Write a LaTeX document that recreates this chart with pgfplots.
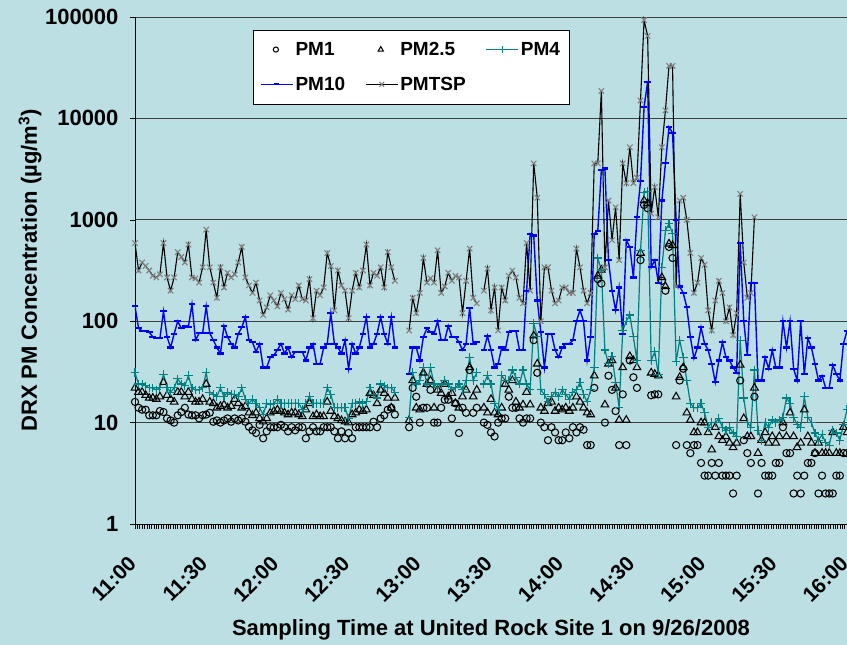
\documentclass[border=0pt]{standalone}
\usepackage{fontspec}
\setmainfont{Liberation Sans}
\usepackage{pgfplots}
\pgfplotsset{compat=1.18}
\usepackage{pgfplotstable}
\definecolor{bgc}{RGB}{187,223,227}
\definecolor{tealc}{RGB}{0,128,128}
\definecolor{grayx}{RGB}{128,128,128}

\pgfplotstableread{
i tsp pm10 pm4 pm25 pm1
0 590 140 31 22 16
1 316 85 24 20 14
2 380 80 24 20 13.4
3 350 80 23 18.6 13.4
4 316 78 22 17.5 11.8
5 280 70 22 17.5 11.8
6 270 68 21 17 11.8
7 290 68 22 18 13
8 590 125 30 25 12.7
9 270 70 22 18.6 11
10 200 55 20 17 10.5
11 270 75 22 16 10
12 480 100 27 20 11.8
13 430 85 24 20 12.7
14 380 90 23 18 14
15 570 88 29 20 12
16 270 147 22 17 11.8
17 265 65 21 16 11.8
18 240 76 21 16 11
19 340 76 22 17 11.8
20 800 140 31 24 12
21 340 76 20 16 12.5
22 240 65 19 15.5 10.2
23 170 55 18 14 10.5
24 340 48 22 14.5 10
25 215 90 18 15 10.5
26 300 70 20 14 11
27 270 60 19 14.5 10.2
28 290 55 19 17 11
29 380 75 18 15.5 10.5
30 540 87 22 14 11
31 270 110 17 14.5 10.2
32 225 65 15.5 12.5 9.1
33 190 62 17 11.8 8.4
34 240 50 15.5 12.5 7.9
35 160 60 14 11 9.5
36 115 35 12 10.2 7
37 137 35 15.5 11 8.2
38 180 44 15 12.5 9
39 160 46 15.5 13 9
40 140 52 17 13.4 9
41 190 60 15.5 13 9.5
42 165 48 15.5 12.5 9
43 130 55 15.5 12 8.2
44 180 44 15.5 12.5 9
45 165 50 15.5 12.5 8.4
46 225 50 15.5 12 9
47 165 50 13.4 11.5 9
48 160 41 15.5 13.4 7
49 260 55 18 15.5 8.2
50 107 60 15.5 11.5 9
51 200 38 15.5 12 8.2
52 180 38 15.5 11.5 8.2
53 215 55 15.5 11.5 9
54 470 60 22 16 9
55 350 120 19 13 9
56 128 60 14 11.5 8.2
57 316 55 14 11 7
58 225 48 14 10.5 8.2
59 200 65 14 10.2 7
60 107 34 11 10 7.9
61 200 60 15.5 12 7
62 300 48 15.5 12.5 9
63 215 55 16 13.4 9
64 316 75 15.5 13 9
65 570 110 16 13.4 9
66 225 55 22 19.5 9
67 300 60 19 18.6 10.2
68 280 75 17.5 15.5 9
69 340 110 24 21 11
70 215 75 23 19.5 11.8
71 480 60 22 17.5 13.4
72 340 110 22 14 14
73 250 55 20 17.5 12
74 nan nan nan nan nan
75 nan nan nan nan nan
76 nan nan nan nan nan
77 81 30 11.3 10.5 9
78 170 55 31 26 22
79 120 55 24 14 18
80 190 41 26 13.4 10
81 420 70 35 31 14
82 240 85 24 24 14
83 265 78 35 26 21
84 240 75 24 14 10
85 500 100 22 21 10
86 190 65 24 19.5 14
87 220 65 26 24 16.8
88 300 90 24 18 16.8
89 250 70 21 19.5 11
90 280 70 22 15.5 15.5
91 270 62 24 14 7.9
92 120 52 21 18 14
93 250 60 26 21 12.5
94 520 135 44 35 33
95 170 60 26 18 12.5
96 150 62 31 21 14
97 nan nan nan nan nan
98 200 52 24 14 10
99 330 72 29 12.5 9.5
100 128 52 24 17 8
101 215 35 15.5 12.5 7.3
102 81 38 13.4 12 10
103 215 55 29 14 11
104 160 52 26 24 11
105 280 78 26 21 18
106 316 80 33 26 14
107 270 80 28 16 14
108 170 52 24 14 11
109 150 52 33 15 10
110 590 200 24 20 11
111 200 730 21 15 11
112 3600 700 95 72 65
113 1650 160 70 38 31
114 100 78 21 14 10
115 340 35 19 13 9
116 340 75 16 15.5 6.7
117 200 75 18 16 9
118 150 52 20 13 8
119 160 44 18 14 6.7
120 215 55 21 13.4 6.7
121 215 60 19 14 8
122 190 60 17 13 7
123 190 65 20 14 9
124 520 100 21 18 8
125 340 128 25 16 9
126 200 100 19 14 8.5
127 150 41 16 12.5 6
128 190 70 21 12 6
129 3600 730 35 29 22
130 3600 780 420 280 260
131 18600 3100 320 320 235
132 340 3200 52 15 10
133 1550 400 38 38 29
134 630 200 45 41 21
135 1330 128 25 22 13
136 400 215 14 10.6 6
137 3600 75 81 35 19
138 2300 630 100 10.6 6
139 5200 540 115 45 41
140 2300 270 70 41 28
141 2600 1060 41 35 22
142 15000 2400 500 470 400
143 93000 13000 1850 1550 1400
144 65000 23000 1900 1450 1300
145 1150 340 41 31 18.6
146 2100 400 50 30 19
147 1060 240 30 29 19
148 5200 1550 340 270 250
149 12000 3600 780 220 200
150 33000 8200 920 580 540
151 33000 7200 730 560 420
152 220 1000 40 18 6
153 1550 220 65 28 26
154 1650 190 44 35 34
155 1000 137 26 12.5 6
156 470 70 15.5 10.6 5
157 190 43 14 8 6
158 240 55 14 8 6
159 420 87 15.5 10 4
160 360 60 12.5 10 3
161 128 52 9 8 3
162 81 38 10 5.4 4
163 160 25 10 9 3
164 250 41 11 7.3 4
165 190 62 9 6.7 3
166 100 44 8.4 7.3 3
167 137 41 9 6.3 3
168 73 35 7.9 5.7 2
169 120 31 7.3 6.3 3
170 1800 590 65 37 26
171 380 100 17.5 11 6.7
172 170 46 10 7.3 5
173 190 240 9 7.3 4
174 1060 240 33 22 18
175 nan 26 8.4 5 2
176 nan 26 6.7 6.7 4
177 nan 44 10 8 3
178 nan 34 9 6.3 3
179 nan 52 10.6 7.3 3
180 nan 35 10 6.3 4
181 nan 35 10.6 7.3 4
182 nan 100 11.3 10 9
183 nan 55 17.5 7.3 5
184 nan 100 15.5 12.5 5
185 nan 34 11.3 7.3 2
186 nan 26 9.5 5.7 3
187 nan 100 9 6.3 2
188 nan 30 18 13.4 3
189 nan 68 11.3 7.3 4
190 nan 55 10 6.3 4
191 nan 38 7.9 5 5
192 nan 26 6.7 6.3 2
193 nan 29 7.6 5 3
194 nan 22 6.3 5 2
195 nan 22 6 5 2
196 nan 37 8.4 8 2
197 nan 30 7.9 5 3
198 nan 26 6.7 5 3
199 nan 60 9.5 9 5
200 nan 80 13.4 8 5
}\datatable

\begin{document}
\begin{tikzpicture}
\fill[bgc] (-135pt,-121pt) rectangle (712pt,524pt);
\begin{axis}[
  at={(0pt,0pt)}, anchor=south west,
  scale only axis, width=712pt, height=507pt,
  ymode=log, ymin=1, ymax=100000,
  xmin=0, xmax=200,
  unbounded coords=jump,
  axis x line*=bottom, axis y line*=left,
  axis line style={black, line width=0.9pt},
  ytick={1,10,100,1000,10000,100000},
  yticklabels={1,10,100,1000,10000,100000},
  yminorticks=false,
  xtick={0,20,...,200},
  xticklabels={11:00,11:30,12:00,12:30,13:00,13:30,14:00,14:30,15:00,15:30,16:00},
  minor x tick num=29,
  tick align=outside,
  major tick length=5pt, minor tick length=5pt,
  every tick/.style={black, line width=0.5pt},
  ymajorgrids,
  grid style={black!75, line width=0.9pt},
  /pgf/number format/assume math mode=true,
  yticklabel style={font=\bfseries\fontsize{22}{22}\selectfont, xshift=-8pt},
  xticklabel style={font=\bfseries\fontsize{21}{21}\selectfont, xshift=-8pt, yshift=-21pt, rotate=45, anchor=north east},
  xlabel={Sampling Time at United Rock Site 1 on 9/26/2008},
  ylabel={DRX PM Concentration (µg/m\textsuperscript{3})},
  xlabel style={font=\bfseries\fontsize{22}{22}\selectfont, at={(axis description cs:0.5,-0.209)}, anchor=center},
  ylabel style={font=\bfseries\fontsize{22}{22}\selectfont, at={(axis description cs:-0.1475,0.5)}, anchor=center},
  legend columns=3,
  legend style={at={(0.1657,0.9744)}, anchor=north west, draw=black, fill=white,
    font=\bfseries\fontsize{19}{19}\selectfont, inner xsep=7pt, inner ysep=10pt,
    row sep=16pt, /tikz/every even column/.append style={column sep=18pt}},
  legend cell align=left,
]
\addplot[only marks, mark=o, mark size=3.6pt, mark options={black, line width=1.05pt},
  legend image code/.code={\draw[only marks, mark=o, mark size=2.6pt, black, line width=0.9pt] plot coordinates {(12pt,0pt)};}]
  table[x=i, y=pm1] {\datatable};
\addlegendentry{PM1}
\addplot[only marks, mark=triangle, mark size=4.4pt, mark options={black, line width=1.05pt},
  legend image code/.code={\draw[only marks, mark=triangle, mark size=3pt, black, line width=0.9pt] plot coordinates {(12pt,0pt)};}]
  table[x=i, y=pm25] {\datatable};
\addlegendentry{PM2.5}
\addplot[tealc, line width=1.2pt, mark=+, mark size=4.3pt, mark options={tealc, line width=1.1pt},
  legend image code/.code={\draw[mark repeat=2, mark phase=2, mark size=3.5pt] plot coordinates {(-3pt,0pt) (13pt,0pt) (29pt,0pt)};}]
  table[x=i, y=pm4] {\datatable};
\addlegendentry{PM4}
\addplot[blue, line width=1.4pt, mark=-, mark size=3.3pt, mark options={blue, line width=2.2pt},
  legend image code/.code={\draw[mark repeat=2, mark phase=2, mark size=2.5pt] plot coordinates {(-3pt,0pt) (13pt,0pt) (29pt,0pt)};}]
  table[x=i, y=pm10] {\datatable};
\addlegendentry{PM10}
\addplot[black, line width=1.1pt, mark=x, mark size=3.8pt, mark options={grayx, line width=1.1pt},
  legend image code/.code={\draw[mark repeat=2, mark phase=2, mark size=3.3pt] plot coordinates {(-3pt,0pt) (13pt,0pt) (29pt,0pt)};}]
  table[x=i, y=tsp] {\datatable};
\addlegendentry{PMTSP}
\end{axis}
\pgfresetboundingbox
\path (-135pt,-121pt) rectangle (712pt,524pt);
\end{tikzpicture}
\end{document}
